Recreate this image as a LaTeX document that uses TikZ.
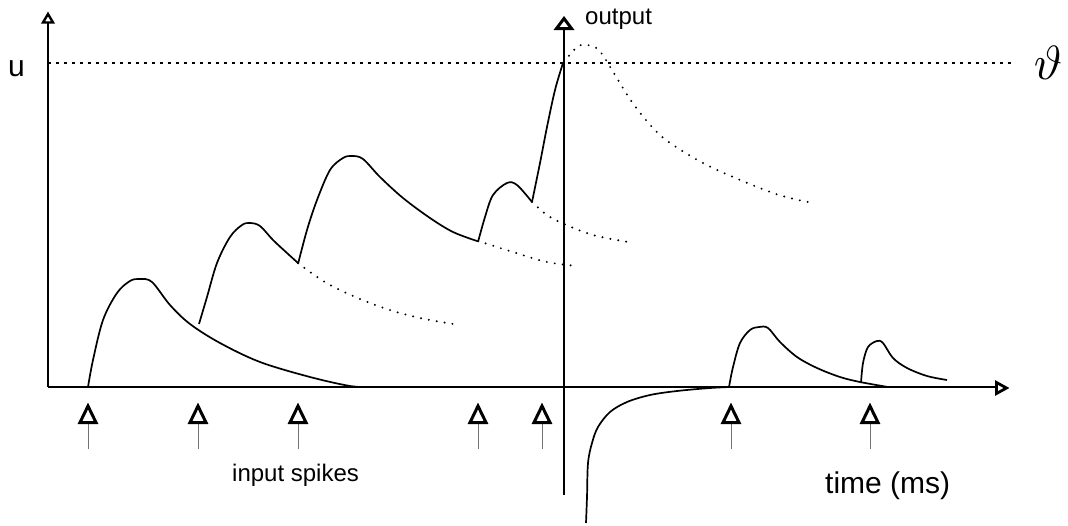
\documentclass[tikz,border=0pt]{standalone}
\usepackage{fontspec}
\setmainfont{Liberation Sans}
\begin{document}
\begin{tikzpicture}[x=1pt,y=-1pt,
  axisline/.style={line width=1.4pt},
  psp/.style={line width=1.7pt, line join=round},
  dots/.style={line width=2.2pt, dash pattern=on 0pt off 8pt, line cap=round},
  thr/.style={line width=1.2pt, dash pattern=on 3pt off 5pt},
  stem/.style={line width=0.9pt, black!55},
  tip/.style={line width=3pt, line join=miter, fill=white},
  lbl/.style={inner sep=0pt, anchor=base west}]
\useasboundingbox (0,0) rectangle (1068,525);

% axes
\coordinate (O) at (48,387);
\coordinate (ytop) at (48,22);
\coordinate (xend) at (997,387);
\draw[axisline] (O) -- (ytop);
\draw[tip, line width=2.4pt] (48,14) -- (43,22.5) -- (53,22.5) -- cycle;
\draw[axisline] (O) -- (xend);
\draw[tip, line width=2.8pt] (1006.5,388) -- (996.5,382.5) -- (996.5,393.5) -- cycle;

% threshold
\coordinate (thA) at (48,63);
\coordinate (thB) at (1015,63);
\draw[thr] (thA) -- (thB);
\node[lbl, font=\fontsize{30}{34}\selectfont] (u) at (8,76) {u};
\node[scale=4.8] (theta) at (1048,63) {$\vartheta$};

% output line
\coordinate (outbot) at (564,495);
\coordinate (outtop) at (564,29);
\draw[line width=1.3pt] (outbot) -- (outtop);
\draw[tip] (564,18.5) -- (556.5,28.5) -- (571.5,28.5) -- cycle;
\node[lbl, font=\fontsize{24}{28}\selectfont] (output) at (585,24) {output};

% input spikes
\foreach \x/\n in {88/s1,198/s2,298/s3,478/s4,542/s5,731/s6,870/s7}{
  \coordinate (\n b) at (\x,449);
  \coordinate (\n t) at (\x,424);
  \draw[stem] (\n b) -- (\n t);
  \draw[tip] (\x,406) -- (\x-8,422.5) -- (\x+8,422.5) -- cycle;
}
\node[lbl, font=\fontsize{24}{28}\selectfont] (inlbl) at (232,481) {input spikes};
\node[lbl, font=\fontsize{30}{34}\selectfont] (tlbl) at (825,493) {time (ms)};

% PSP 1
\draw[psp] plot[smooth, tension=0.55] coordinates {(88,387) (93,360) (103,320) (117,293) (130,281) (140,279) (152,282) (170,305) (190,324) (220,343) (260,362) (310,377) (350,386) (370,387)};
% PSP 2
\draw[psp] plot[smooth, tension=0.55] coordinates {(199,324) (207,297) (217,263) (230,237) (242,225) (250,223) (260,226) (273,240) (287,253) (298,263)};
\draw[dots] plot[smooth, tension=0.6] coordinates {(298,263) (330,285) (378,306) (420,318) (460,325)};
% PSP 3
\draw[psp] plot[smooth, tension=0.55] coordinates {(298,264) (307,230) (317,200) (330,170) (343,158) (352,156) (363,159) (380,177) (403,198) (430,218) (453,232) (477,241)};
\draw[dots] plot[smooth, tension=0.6] coordinates {(478,241) (513,252) (547,262) (578,266)};
% PSP 4
\draw[psp] plot[smooth, tension=0.55] coordinates {(478,242) (485,217) (493,195) (507,183) (517,185) (532,202)};
\draw[dots] plot[smooth, tension=0.6] coordinates {(532,202) (547,215) (564,224) (593,235) (628,242)};
% PSP 5 reaching threshold
\draw[psp] plot[smooth, tension=0.55] coordinates {(532,202) (540,163) (547,127) (555,90) (563,63)};
\draw[dots] plot[smooth, tension=0.6] coordinates {(564,62) (577,47) (586,45) (595,47) (602,54) (612,70) (632,102) (653,128) (673,145) (713,168) (773,193) (808,202)};

% after-spike hyperpolarisation
\draw[psp] plot[smooth, tension=0.55] coordinates {(586,523) (587,497) (588,463) (592,443) (598,427) (610,412) (627,402) (650,395) (677,391) (710,388) (730,387)};

% later PSPs
\draw[psp] plot[smooth, tension=0.55] coordinates {(729,387) (733,367) (740,343) (750,330) (759,327) (768,328) (780,342) (797,357) (817,368) (840,377) (860,382) (888,387)};
\draw[psp] plot[smooth, tension=0.55] coordinates {(861,383) (863,363) (868,347) (877,341) (883,343) (893,358) (907,368) (927,376) (947,380)};
\end{tikzpicture}
\end{document}
